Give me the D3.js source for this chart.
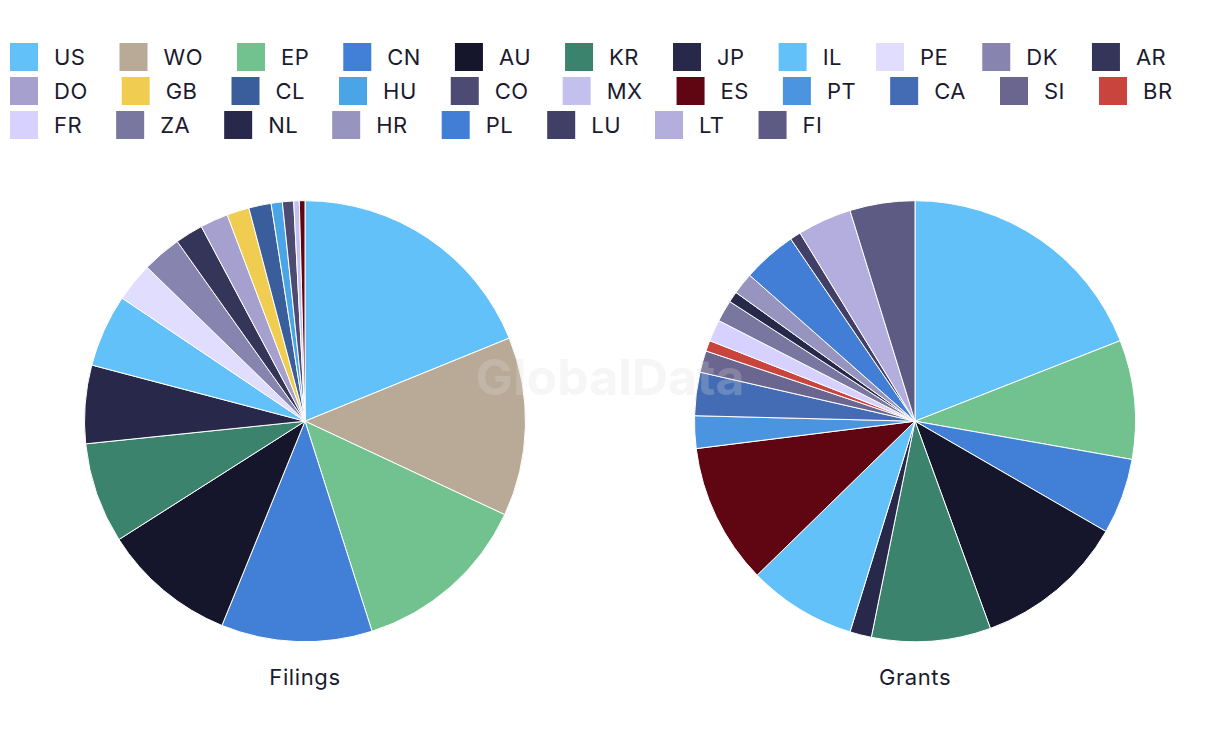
<!DOCTYPE html>
<html>
<head>
<meta charset="utf-8">
<script src="https://cdn.jsdelivr.net/npm/d3@7"></script>
<style>
  html, body { margin: 0; padding: 0; background: #fff; }
  svg { display: block; font-family: Inter, "Noto Sans", sans-serif; }
</style>
</head>
<body>
<div id="field"></div>
<script>
'use strict';

// legend / slice order
const categories = ['US', 'WO', 'EP', 'CN', 'AU', 'KR', 'JP', 'IL', 'PE', 'DK', 'AR',
                    'DO', 'GB', 'CL', 'HU', 'CO', 'MX', 'ES', 'PT', 'CA', 'SI', 'BR',
                    'FR', 'ZA', 'NL', 'HR', 'PL', 'LU', 'LT', 'FI'];
const filings = [46, 32, 32, 27, 24, 18, 14, 13, 7, 7, 5,
                 5, 4, 4, 2, 2, 1, 1, 0, 0, 0, 0,
                 0, 0, 0, 0, 0, 0, 0, 0];
const grants = [24, 0, 11, 7, 14, 11, 2, 10, 0, 0, 0,
                0, 0, 0, 0, 0, 0, 13, 3, 4, 2, 1,
                2, 2, 1, 2, 5, 1, 5, 6];
const pieTitles = ['Filings', 'Grants'];

const palette = ['#62c1f9', '#b8aa96', '#72c290', '#427fd6', '#15162b', '#3b836d', '#27284a', '#62c1f9', '#e1ddff', '#8884b0', '#353459',
                 '#a5a0ce', '#f0cd50', '#3a5d9c', '#49a5e6', '#4d4a74', '#c4c0ee', '#600612', '#4b95e0', '#436cb5', '#6a668f', '#c8443d',
                 '#d7d1ff', '#79769f', '#27284a', '#9794c0', '#427ed6', '#423f67', '#b3aedd', '#5d5a83'];

function PieCharts(setting) {
  let w = setting.w,
      h = setting.h,
      textColor = '#1b1b2f',
      svg = d3.select('#field').append('svg').attr('width', w).attr('height', h);

  let color = d3.scaleOrdinal().domain(categories).range(palette);

  // legend, items flow left to right and wrap
  let legend = svg.append('g'),
      lx = 10, ly = 43;
  categories.forEach(function(c) {
    let item = legend.append('g');
    item.append('rect')
      .attr('width', 28)
      .attr('height', 28)
      .attr('fill', color(c));
    let t = item.append('text')
      .attr('x', 44)
      .attr('y', 21.5)
      .attr('font-size', '22px')
      .attr('letter-spacing', '0.5px')
      .attr('fill', textColor)
      .text(c);
    let iw = 44 + t.node().getComputedTextLength();
    if (lx + iw > w - 8) {
      lx = 10;
      ly += 34;
    }
    item.attr('transform', 'translate(' + lx + ',' + ly + ')');
    lx += iw + 34;
  });

  // two pies
  let pie = d3.pie().sort(null).value(function(d) { return d.v; }),
      arc = d3.arc().innerRadius(0).outerRadius(220.5),
      centers = d3.scalePoint().domain(pieTitles).range([305, 915]);

  [filings, grants].forEach(function(values, k) {
    let data = categories.map(function(c, i) { return { c: c, v: values[i] }; })
                         .filter(function(d) { return d.v > 0; });
    let g = svg.append('g')
      .attr('transform', 'translate(' + centers(pieTitles[k]) + ',421.2)');
    g.selectAll('path')
      .data(pie(data))
      .enter().append('path')
      .attr('d', arc)
      .attr('fill', function(d) { return color(d.data.c); })
      .attr('stroke', '#fff')
      .attr('stroke-width', 1);
    g.append('text')
      .attr('y', 263.5)
      .attr('text-anchor', 'middle')
      .attr('font-size', '22px')
      .attr('letter-spacing', '0.6px')
      .attr('fill', textColor)
      .text(pieTitles[k]);
  });

  // watermark
  svg.append('text')
    .attr('x', 610)
    .attr('y', 395)
    .attr('text-anchor', 'middle')
    .attr('font-size', '50px')
    .attr('font-weight', 'bold')
    .attr('fill', '#dcdcdc')
    .attr('fill-opacity', 0.25)
    .text('GlobalData');
}

let charts = new PieCharts({
  w: 1220,
  h: 754
});
</script>
</body>
</html>
